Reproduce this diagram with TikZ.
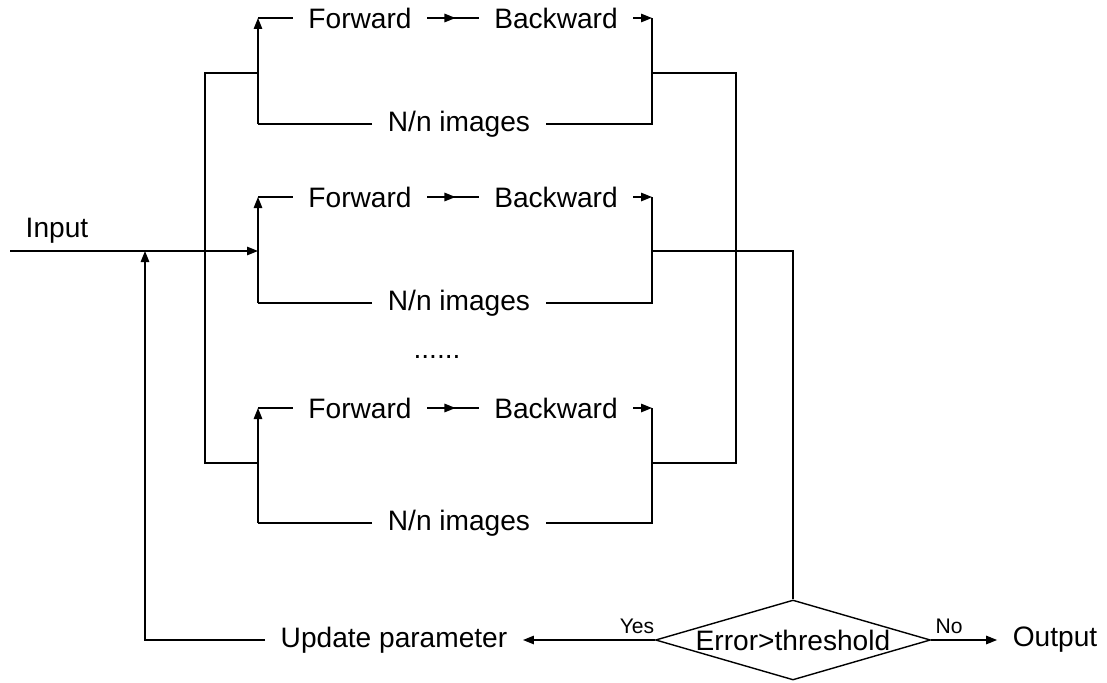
\documentclass[tikz,border=0pt]{standalone}
\usepackage{fontspec}
\setmainfont{Liberation Sans}
\usetikzlibrary{arrows.meta,shapes.geometric,decorations.markings}

\begin{document}
\begin{tikzpicture}[x=0.02cm,y=-0.02cm,line width=0.8pt,
    txt/.style={font=\fontsize{16}{19}\selectfont,inner xsep=0.3cm,inner ysep=2pt},
    small/.style={font=\fontsize{12}{14}\selectfont,inner sep=1pt},
    arr/.style={-{Triangle[length=0.22cm,width=0.17cm]}},
    midarr/.style={decoration={markings,mark=at position 0.55 with {\arrow{Triangle[length=0.22cm,width=0.17cm]}}},postaction={decorate}}]
    \useasboundingbox (0,0) rectangle (1107,683);
    \foreach \i/\yt/\yb in {1/18/124,2/197/303,3/408/523}{
        \node[txt] (fw\i) at (360,\yt) {Forward};
        \node[txt] (bw\i) at (556,\yt) {Backward};
        \node[txt] (im\i) at (459,\yb) {N/n images};
        \coordinate (tl\i) at (258,\yt);
        \coordinate (bl\i) at (258,\yb);
        \coordinate (tr\i) at (652,\yt);
        \coordinate (br\i) at (652,\yb);
        \draw[arr] (bl\i) -- (tl\i);
        \draw (tl\i) -- (fw\i);
        \draw[midarr] (fw\i) -- (bw\i);
        \draw[arr] (bw\i) -- (tr\i);
        \draw (tr\i) -- (br\i) -- (im\i) -- (bl\i);
    }
    \node[txt] (dots) at (437,357) {......};
    \node[txt,anchor=west] (in) at (10,231) {Input};
    \node[txt] (up) at (394,640) {Update parameter};
    \node[draw,diamond,aspect=3.4,minimum width=5.5cm,minimum height=1.6cm,inner sep=0pt,
        font=\fontsize{16}{19}\selectfont] (dia) at (793,640) {Error>threshold};
    \node[txt] (out) at (1055,640) {Output};
    \node[small] (yes) at (637,626) {Yes};
    \node[small] (no) at (949,626) {No};
    \coordinate (lj1) at (258,73);
    \coordinate (lj3) at (258,463);
    \coordinate (lb) at (205,463);
    \coordinate (rj1) at (652,73);
    \coordinate (rj2) at (652,251);
    \coordinate (rj3) at (652,463);
    \coordinate (rb) at (736,463);
    \coordinate (is) at (10,251);
    \coordinate (ij) at (258,251);
    \coordinate (fb) at (145,640);
    \coordinate (fj) at (145,251);
    \draw (lj1) -| (lb) -- (lj3);
    \draw (rj1) -| (rb) -- (rj3);
    \draw (rj2) -| (dia.north);
    \draw[arr] (is) -- (ij);
    \draw[arr] (dia) -- (up);
    \draw[arr] (dia) -- (out);
    \draw[arr] (up) -- (fb) -- (fj);
\end{tikzpicture}
\end{document}
